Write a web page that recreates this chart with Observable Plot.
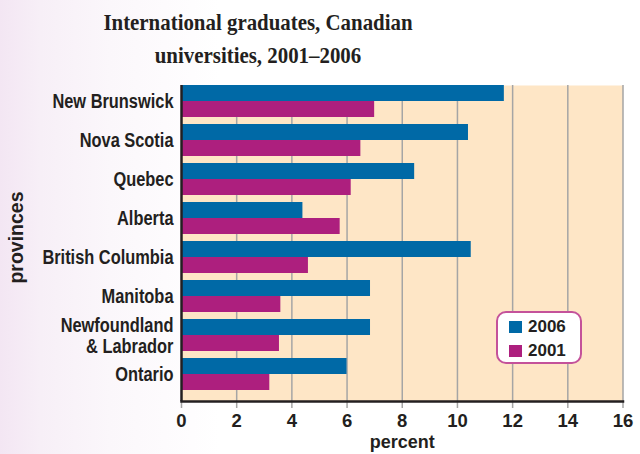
<!DOCTYPE html>
<html><head><meta charset="utf-8">
<script src="https://cdn.jsdelivr.net/npm/d3@7"></script>
<script src="https://cdn.jsdelivr.net/npm/@observablehq/plot@0.6"></script>
<style>
body{margin:0;width:640px;height:454px;overflow:hidden;position:relative;
 background:linear-gradient(to right,#f3e6f3 0px,#f7eff7 40px,#fbf7fb 110px,#fff 220px);}
#title{height:75px;box-sizing:border-box;padding-top:6px;width:516px;text-align:center;
 font-family:"Liberation Serif",serif;font-weight:bold;font-size:24px;line-height:33px;color:#231f20;
 transform:scaleX(0.87);transform-origin:258px 0;}
#chart svg{display:block;background:transparent;}
#legend{position:absolute;left:496px;top:311px;width:82px;height:49px;border:2px solid #c4529a;border-radius:10px;background:#fff;
 font-family:"Liberation Sans",Arial,sans-serif;font-weight:bold;font-size:17px;color:#231f20;}
.item{position:absolute;left:11px;height:14px;display:flex;align-items:center;}
.sw{width:13px;height:12px;margin-right:6px;}
</style></head>
<body>
<div id="title">International graduates, Canadian<br>universities, 2001–2006</div>
<div id="chart"></div>
<div id="legend"></div>
<script>
const provinces = ["New Brunswick","Nova Scotia","Quebec","Alberta","British Columbia","Manitoba","Newfoundland\n& Labrador","Ontario"];
const years = ["2006","2001"];
const values2006 = [11.7,10.4,8.45,4.4,10.5,6.85,6.85,6.0];
const values2001 = [7.0,6.5,6.15,5.75,4.6,3.6,3.55,3.2];
const xTicks = [0,2,4,6,8,10,12,14,16];
const colors = {"2006":"#0069a6","2001":"#ad1f7e"};

const data = provinces.flatMap((p,i)=>[
  {province:p, year:"2006", value:values2006[i]},
  {province:p, year:"2001", value:values2001[i]}
]);

const sans = "'Liberation Sans',Arial,sans-serif";

const plot = Plot.plot({
  width:640, height:379,
  marginTop:10, marginBottom:53, marginLeft:181, marginRight:17.5,
  style:{background:"transparent", color:"#231f20"},
  x:{domain:[0,16]},
  y:{domain:provinces, paddingInner:0.1855, paddingOuter:0.114, align:0},
  marks:[
    Plot.frame({fill:"#fee6c6", stroke:null}),
    Plot.ruleX(xTicks.slice(1), {stroke:"#a5a5a5", strokeWidth:1.5}),
    Plot.barX(data.filter(d=>d.year==="2006"), {x:"value", y:"province", fill:colors["2006"], insetBottom:16}),
    Plot.barX(data.filter(d=>d.year==="2001"), {x:"value", y:"province", fill:colors["2001"], insetTop:16}),
    Plot.axisX(xTicks, {tickSize:7, stroke:"#a5a5a5", strokeWidth:1.5, tickPadding:5, fontSize:18.5, fontWeight:"bold", fontFamily:sans,
      label:null}),
    Plot.axisX([], {tickSize:0, fontSize:18, fontWeight:"bold", fontFamily:sans,
      label:"percent", labelArrow:"none", labelAnchor:"center", labelOffset:46}),
    Plot.axisY({tickSize:0, tickPadding:8, fontSize:20.5, fontWeight:"bold", fontFamily:sans, lineHeight:1.03, label:null}),
    Plot.axisY([], {tickSize:0, fontSize:19.5, fontWeight:"bold", fontFamily:sans,
      label:"provinces", labelArrow:"none", labelAnchor:"center", labelOffset:172}),
    Plot.ruleX([0], {stroke:"#231f20", strokeWidth:2.5}),
    Plot.frame({anchor:"bottom", stroke:"#231f20", strokeWidth:2.5})
  ]
});
document.getElementById("chart").appendChild(plot);

// condense the province labels horizontally (narrow bold face like the original)
d3.select(plot).selectAll('g[aria-label="y-axis tick label"] text').each(function(){
  const t = this.getAttribute("transform") || "";
  this.setAttribute("transform", t + " scale(0.8,1)");
});
// nudge the rotated axis title up a little
d3.select(plot).selectAll('g[aria-label="y-axis label"] text').each(function(){
  const t = this.getAttribute("transform") || "";
  this.setAttribute("transform", t + " translate(6,0)");
});

const leg = document.getElementById("legend");
years.forEach((y,i)=>{
  const it = document.createElement("div");
  it.className="item"; it.style.top = (i===0? 6.5 : 31) + "px";
  it.innerHTML = `<span class="sw" style="background:${colors[y]}"></span><span>${y}</span>`;
  leg.appendChild(it);
});
</script>
</body></html>
